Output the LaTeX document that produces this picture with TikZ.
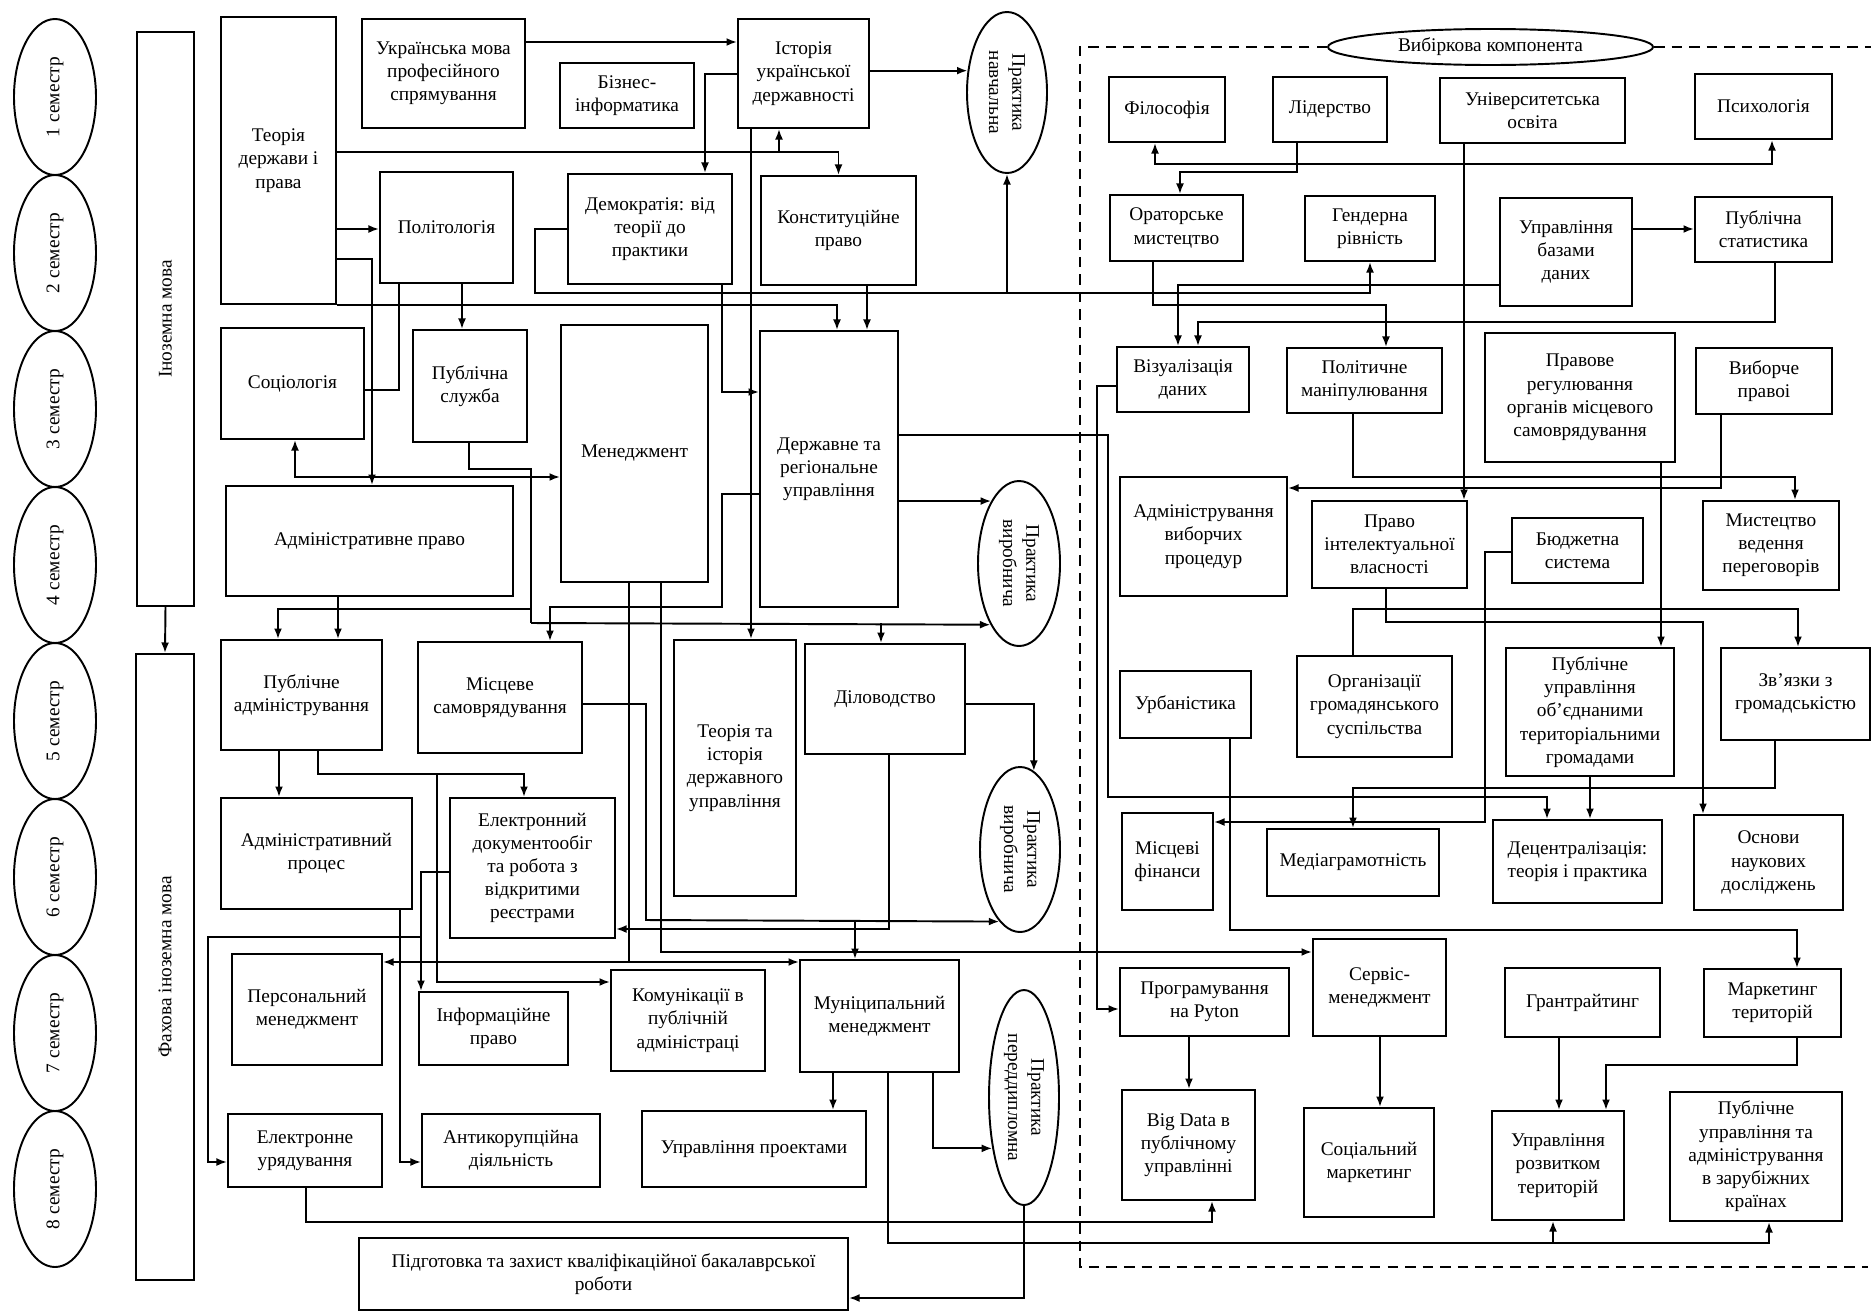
\documentclass[tikz,border=0pt]{standalone}
\usepackage{fontspec}
\setmainfont{Liberation Serif}
\usetikzlibrary{shapes.geometric, arrows.meta}

\tikzset{
    txt/.style={font=\fontsize{11}{13.2}\selectfont, align=center},
    box/.style={draw, txt, inner sep=1pt},
    oval/.style={draw, ellipse, txt, inner sep=0pt},
    sz/.style 2 args={minimum width=#1*0.02cm, minimum height=#2*0.02cm},
    rtext/.style={label={[txt, rotate=90]center:#1}},
    ptext/.style={label={[txt, rotate=-90]center:#1}},
    arr/.style={-{Latex[length=6pt, width=4.5pt]}},
    elective/.style={dash pattern=on 6pt off 4pt}
}

\begin{document}
\begin{tikzpicture}[x=0.02cm, y=-0.02cm, line width=1.1pt]
    \useasboundingbox (0,0) rectangle (1875,1312);

    \foreach \n/\y in {1/97,2/253,3/409,4/565,5/721,6/877,7/1033,8/1189}
        \node[oval, sz={82}{156}, rtext={\n\ семестр}] (sem\n) at (55,\y) {};

    \node[box, sz={57}{574}, rtext={Іноземна мова}] (lang) at (165.5,319) {};
    \node[box, sz={58}{626}, rtext={Фахова іноземна мова}] (proflang) at (165,967) {};

    \node[box, sz={115}{287}] (tdp) at (278.5,160.5) {Теорія\\держави і\\права};
    \node[box, sz={163}{109}] (ukr) at (443.5,73.5) {Українська мова\\професійного\\спрямування};
    \node[box, sz={134}{65}] (bizinf) at (627,95.5) {Бізнес-\\інформатика};
    \node[box, sz={131}{109}] (hist) at (803.5,73.5) {Історія\\української\\державності};
    \node[oval, sz={80}{161}, ptext={Практика\\навчальна}] (pr1) at (1007,92.5) {};
    \node[box, sz={133}{111}] (polit) at (446.5,227.5) {Політологія};
    \node[box, sz={164}{110}] (demo) at (650,229) {Демократія: від\\теорії до\\практики};
    \node[box, sz={155}{109}] (const) at (838.5,230.5) {Конституційне\\право};
    \node[box, sz={143}{111}] (soc) at (292.5,383.5) {Соціологія};
    \node[box, sz={114}{112}] (pubserv) at (470,386) {Публічна\\служба};
    \node[box, sz={147}{257}] (mgmt) at (634.5,453.5) {Менеджмент};
    \node[box, sz={138}{276}] (dru) at (829,469) {Державне та\\регіональне\\управління};
    \node[box, sz={287}{110}] (adml) at (369.5,541) {Адміністративне право};
    \node[oval, sz={82}{165}, ptext={Практика\\виробнича}] (pr2) at (1019,563.5) {};
    \node[box, sz={161}{110}] (pubadm) at (301.5,695) {Публічне\\адміністрування};
    \node[box, sz={164}{111}] (localgov) at (500,697.5) {Місцеве\\самоврядування};
    \node[box, sz={122}{256}] (thist) at (735,768) {Теорія та\\історія\\державного\\управління};
    \node[box, sz={160}{110}] (records) at (885,699) {Діловодство};
    \node[oval, sz={80}{165}, ptext={Практика\\виробнича}] (pr3) at (1020,849.5) {};
    \node[box, sz={191}{111}] (admproc) at (316.5,853.5) {Адміністративний\\процес};
    \node[box, sz={165}{140}] (edoc) at (532.5,868) {Електронний\\документообіг\\та робота з\\відкритими\\реєстрами};
    \node[box, sz={150}{111}] (persmgmt) at (307,1009.5) {Персональний\\менеджмент};
    \node[box, sz={149}{73}] (inflaw) at (493.5,1028.5) {Інформаційне\\право};
    \node[box, sz={154}{101}] (comm) at (688,1020.5) {Комунікації в\\публічній\\адміністраці};
    \node[box, sz={159}{112}] (munic) at (879.5,1016) {Муніципальний\\менеджмент};
    \node[oval, sz={70}{215}, ptext={Практика\\переддипломна}] (pr4) at (1024,1097.5) {};
    \node[box, sz={154}{73}] (egov) at (305,1150.5) {Електронне\\урядування};
    \node[box, sz={178}{73}] (anticorr) at (511,1150.5) {Антикорупційна\\діяльність};
    \node[box, sz={224}{76}] (projmgmt) at (754,1149) {Управління проектами};
    \node[box, sz={489}{72}] (thesis) at (603.5,1274) {Підготовка та захист кваліфікаційної бакалаврської\\роботи};

    \node[oval, sz={325}{36}] (elect) at (1490.5,47) {Вибіркова компонента};
    \node[box, sz={116}{65}] (phil) at (1167,109.5) {Філософія};
    \node[box, sz={114}{65}] (lead) at (1330,109.5) {Лідерство};
    \node[box, sz={185}{65}] (univ) at (1532.5,110.5) {Університетська\\освіта};
    \node[box, sz={137}{65}] (psych) at (1763.5,106.5) {Психологія};
    \node[box, sz={133}{66}] (orat) at (1176.5,228) {Ораторське\\мистецтво};
    \node[box, sz={130}{65}] (gender) at (1370,228.5) {Гендерна\\рівність};
    \node[box, sz={132}{108}] (dbm) at (1566,252) {Управління\\базами\\даних};
    \node[box, sz={137}{65}] (pstat) at (1763.5,229.5) {Публічна\\статистика};
    \node[box, sz={132}{65}] (viz) at (1183,379.5) {Візуалізація\\даних};
    \node[box, sz={155}{65}] (polman) at (1364.5,380.5) {Політичне\\маніпулювання};
    \node[box, sz={190}{129}] (lawreg) at (1580,397.5) {Правове\\регулювання\\органів місцевого\\самоврядування};
    \node[box, sz={136}{66}] (elaw) at (1764,381) {Виборче\\правоі};
    \node[box, sz={167}{119}] (admelect) at (1203.5,536.5) {Адміністрування\\виборчих\\процедур};
    \node[box, sz={155}{87}] (iplaw) at (1389.5,544.5) {Право\\інтелектуальної\\власності};
    \node[box, sz={131}{65}] (budget) at (1577.5,550.5) {Бюджетна\\система};
    \node[box, sz={136}{89}] (negot) at (1771,545.5) {Мистецтво\\ведення\\переговорів};
    \node[box, sz={131}{67}] (urban) at (1185.5,704.5) {Урбаністика};
    \node[box, sz={155}{101}] (civsoc) at (1374.5,706.5) {Організації\\громадянського\\суспільства};
    \node[box, sz={168}{128}] (otg) at (1590,712) {Публічне\\управління\\об'єднаними\\територіальними\\громадами};
    \node[box, sz={149}{92}] (pubrel) at (1795.5,694) {Зв'язки з\\громадськістю};
    \node[box, sz={91}{97}] (locfin) at (1167.5,861.5) {Місцеві\\фінанси};
    \node[box, sz={172}{67}] (media) at (1353,862.5) {Медіаграмотність};
    \node[box, sz={169}{83}] (decent) at (1577.5,861.5) {Децентралізація:\\теорія і практика};
    \node[box, sz={149}{95}] (research) at (1768.5,862.5) {Основи\\наукових\\досліджень};
    \node[box, sz={169}{68}] (python) at (1204.5,1002) {Програмування\\на Pyton};
    \node[box, sz={133}{97}] (service) at (1379.5,987.5) {Сервіс-\\менеджмент};
    \node[box, sz={155}{69}] (grant) at (1582.5,1002.5) {Грантрайтинг};
    \node[box, sz={137}{68}] (mterr) at (1772.5,1003) {Маркетинг\\територій};
    \node[box, sz={133}{110}] (bigdata) at (1188.5,1145) {Big Data в\\публічному\\управлінні};
    \node[box, sz={130}{109}] (socmark) at (1369,1162.5) {Соціальний\\маркетинг};
    \node[box, sz={132}{109}] (devterr) at (1558,1165.5) {Управління\\розвитком\\територій};
    \node[box, sz={172}{129}] (foreign) at (1756,1156.5) {Публічне\\управління та\\адміністрування\\в зарубіжних\\країнах};

    \draw[elective] (elect.west) -- (1080,0 |- elect.west) -- (1080,1267) -- (1868,1267);
    \draw[elective] (elect.east) -- (1871,0 |- elect.east);

    \draw[arr] (lang.south) -- (proflang.north);
    \draw[arr] (ukr.east |- 0,42) -- (hist.west |- 0,42);
    \draw[arr] (hist.west |- 0,74) -| (705,0 |- demo.north);
    \draw[arr] (hist.east |- pr1.151) -- (pr1.151);
    \draw[arr] (tdp.east |- 0,152) -| (const.north);
    \draw[arr] (779,152) -- (779,0 |- hist.south);
    \draw[arr] (tdp.east |- 0,229) -- (polit.west |- 0,229);
    \draw[arr] (tdp.east |- 0,259) -| (372,0 |- adml.north);
    \draw (soc.east |- 0,390) -| (399,0 |- polit.south);
    \draw[arr] (462,0 |- polit.south) -- (462,0 |- pubserv.north);
    \draw[arr] (722,0 |- demo.south) |- (dru.west |- 0,392);
    \draw[arr] (867,0 |- const.south) -- (867,0 |- dru.north);
    \draw[arr] (tdp.south east) -| (837,0 |- dru.north);
    \draw[arr] (demo.west |- 0,229) -| (535,293) -| (gender.south);
    \draw[arr] (pr1.south |- 0,293) -- (pr1.south);
    \draw[arr] (751,0 |- hist.south) -- (751,0 |- thist.north);
    \draw[arr] (469,0 |- pubserv.south) |- (531,469) |- (mgmt.west |- 0,477);
    \draw[arr] (531,477) -| (295,0 |- soc.south);
    \draw (531,477) -- (531,623);
    \draw[arr] (dru.east |- pr2.114) -- (pr2.114);
    \draw[arr] (dru.east |- 0,435) -| (1108,797) -| (1547,0 |- decent.north);
    \draw[arr] (dru.west |- 0,494) -| (722,607) -| (550,0 |- localgov.north);
    \draw[arr] (338,0 |- adml.south) -- (338,0 |- pubadm.north);
    \draw[arr] (531,609) -| (278,0 |- pubadm.north);
    \draw[arr] (531,623) -- (pr2.245);
    \draw[arr] (881,623) -- (881,0 |- records.north);
    \draw[arr] (279,0 |- pubadm.south) -- (279,0 |- admproc.north);
    \draw[arr] (318,0 |- pubadm.south) |- (524,774) -- (524,0 |- edoc.north);
    \draw[arr] (437,774) |- (comm.west |- 0,982);
    \draw[arr] (edoc.west |- 0,872) -| (421,0 |- inflaw.north);
    \draw[arr] (400,0 |- admproc.south) |- (anticorr.west |- 0,1162);
    \draw[arr] (421,937) -| (208,1162) -- (egov.west |- 0,1162);
    \draw[arr] (records.east |- 0,704) -| (pr3.80);
    \draw[arr] (localgov.east |- 0,704) -| (646,920) -- (pr3.254);
    \draw[arr] (855,920) -- (855,0 |- munic.north);
    \draw[arr] (889,0 |- records.south) |- (edoc.east |- 0,929);
    \draw[arr] (629,0 |- mgmt.south) |- (persmgmt.east |- 0,962);
    \draw[arr] (629,962) -- (munic.west |- 0,962);
    \draw[arr] (661,0 |- mgmt.south) |- (service.west |- 0,952);
    \draw[arr] (833,0 |- munic.south) -- (833,0 |- projmgmt.north);
    \draw[arr] (933,0 |- munic.south) |- (pr4.238);
    \draw[arr] (888,0 |- munic.south) |- (1769,1243) -- (1769,0 |- foreign.south);
    \draw[arr] (1553,1243) -- (1553,0 |- devterr.south);
    \draw[arr] (306,0 |- egov.south) |- (1212,1222) -- (1212,0 |- bigdata.south);
    \draw[arr] (pr4.south) |- (thesis.east |- 0,1298);

    \draw[arr] (1297,0 |- lead.south) |- (1180,172) -- (1180,0 |- orat.north);
    \draw[arr] (1297,164) -| (1155,0 |- phil.south);
    \draw[arr] (1297,164) -| (1772,0 |- psych.south);
    \draw[arr] (1464,0 |- univ.south) -- (1464,0 |- iplaw.north);
    \draw[arr] (dbm.east |- 0,229) -- (pstat.west |- 0,229);
    \draw[arr] (dbm.west |- 0,285) -| (1178,0 |- viz.north);
    \draw[arr] (1153,0 |- orat.south) |- (1386,305) -- (1386,0 |- polman.north);
    \draw[arr] (1775,0 |- pstat.south) |- (1198,322) -- (1198,0 |- viz.north);
    \draw[arr] (viz.west |- 0,386) -| (1097,1009) -- (python.west |- 0,1009);
    \draw[arr] (1353,0 |- polman.south) |- (1795,477) -- (1795,0 |- negot.north);
    \draw[arr] (1721,0 |- elaw.south) |- (admelect.east |- 0,488);
    \draw[arr] (1661,0 |- lawreg.south) -- (1661,0 |- otg.north);
    \draw[arr] (budget.west |- 0,552) -| (1485,822) -- (locfin.east |- 0,822);
    \draw[arr] (1386,0 |- iplaw.south) |- (1703,622) -- (1703,0 |- research.north);
    \draw[arr] (1353,0 |- civsoc.north) |- (1798,609) -- (1798,0 |- pubrel.north);
    \draw[arr] (1230,0 |- urban.south) |- (1797,930) -- (1797,0 |- mterr.north);
    \draw[arr] (1590,0 |- otg.south) -- (1590,0 |- decent.north);
    \draw[arr] (1775,0 |- pubrel.south) |- (1353,788) -- (1353,0 |- media.north);
    \draw[arr] (1189,0 |- python.south) -- (1189,0 |- bigdata.north);
    \draw[arr] (1380,0 |- service.south) -- (1380,0 |- socmark.north);
    \draw[arr] (1559,0 |- grant.south) -- (1559,0 |- devterr.north);
    \draw[arr] (1797,0 |- mterr.south) |- (1606,1065) -- (1606,0 |- devterr.north);
\end{tikzpicture}
\end{document}
